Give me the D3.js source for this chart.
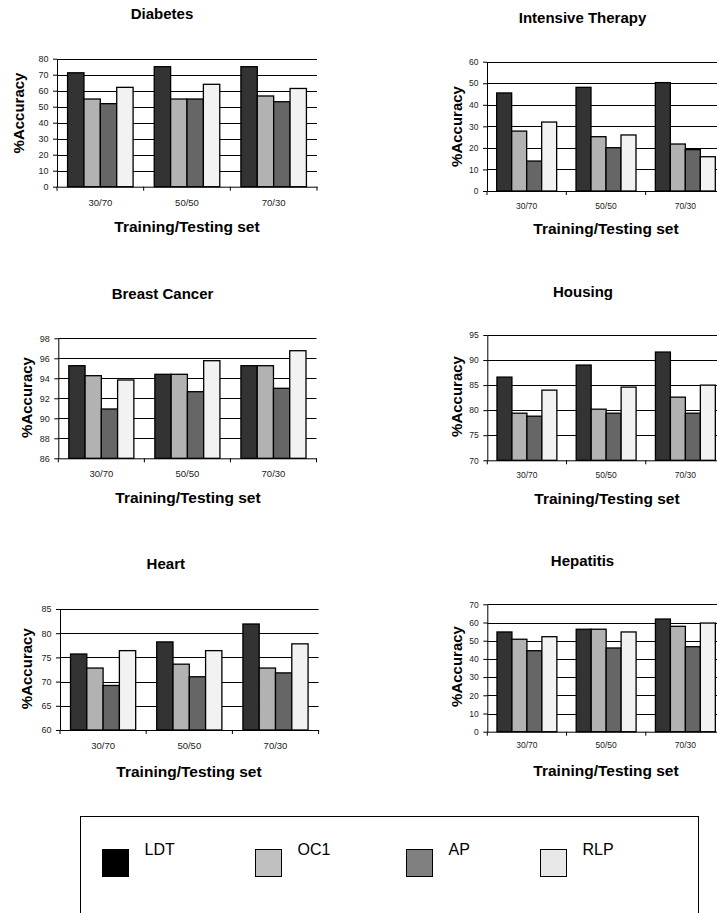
<!DOCTYPE html>
<html>
<head>
<meta charset="utf-8">
<script src="https://cdn.jsdelivr.net/npm/d3@7"></script>
<style>
  html, body { margin: 0; padding: 0; background: #fff; }
  svg { display: block; }
  text { font-family: Arial, "Liberation Sans", Helvetica, sans-serif; }
</style>
</head>
<body>
<svg id="chart" width="717" height="913"></svg>
<script>
// ---------------- DATA ----------------
const categories = ["30/70", "50/50", "70/30"];
const seriesNames = ["LDT", "OC1", "AP", "RLP"];
const barColors = ["#333333", "#b2b2b2", "#666666", "#f2f2f2"];
const legendColors = ["#000000", "#c0c0c0", "#808080", "#e8e8e8"];

// rows = series (LDT, OC1, AP, RLP); columns = categories
const diabetes     = [[71.2, 75.0, 75.0], [54.8, 54.8, 56.7], [51.9, 54.8, 53.1], [62.1, 64.0, 61.4]];
const intensive    = [[45.5, 48.1, 50.3], [27.8, 25.2, 21.8], [13.9, 20.1, 19.2], [32.0, 26.0, 15.9]];
const breastCancer = [[95.26, 94.4, 95.26], [94.26, 94.4, 95.26], [90.93, 92.66, 93.0], [93.83, 95.76, 96.76]];
const housing      = [[86.6, 89.0, 91.6], [79.4, 80.2, 82.6], [78.8, 79.4, 79.4], [84.0, 84.6, 85.0]];
const heart        = [[75.7, 78.2, 81.9], [72.8, 73.6, 72.8], [69.2, 71.0, 71.8], [76.4, 76.4, 77.8]];
const hepatitis    = [[54.8, 56.3, 61.9], [50.8, 56.3, 57.9], [44.5, 46.0, 46.7], [52.2, 54.8, 59.7]];

const yDomains = {
  diabetes: [0, 80], intensive: [0, 60], breastCancer: [86, 98],
  housing: [70, 95], heart: [60, 85], hepatitis: [0, 70]
};
const yTickSteps = { diabetes: 10, intensive: 10, breastCancer: 2, housing: 5, heart: 5, hepatitis: 10 };

const yLabel = "%Accuracy";
const xLabel = "Training/Testing set";

// ---------------- LAYOUT ----------------
const panels = [
  { key: "diabetes", title: "Diabetes", data: diabetes,
    left: 57, right: 317, top: 58.7, bottom: 186.7,
    titleX: 162, titleY: 18.5, yLabX: 24, yLabY: 113, catY: 206, xTitleX: 187, xTitleY: 232, tickFont: 9, catFont: 9.5 },
  { key: "intensive", title: "Intensive Therapy", data: intensive,
    left: 487, right: 725, top: 61.7, bottom: 191,
    titleX: 582.5, titleY: 22.5, yLabX: 462, yLabY: 126.5, catY: 209, xTitleX: 606, xTitleY: 234, tickFont: 8.5, catFont: 8.5 },
  { key: "breastCancer", title: "Breast Cancer", data: breastCancer,
    left: 58.3, right: 316.5, top: 338.3, bottom: 458.3,
    titleX: 162.5, titleY: 298.5, yLabX: 32.4, yLabY: 397.5, catY: 477, xTitleX: 188, xTitleY: 503, tickFont: 9, catFont: 9.5 },
  { key: "housing", title: "Housing", data: housing,
    left: 487.3, right: 725, top: 335, bottom: 460.3,
    titleX: 583, titleY: 296.7, yLabX: 462.4, yLabY: 396.5, catY: 478, xTitleX: 607, xTitleY: 504, tickFont: 8.5, catFont: 8.5 },
  { key: "heart", title: "Heart", data: heart,
    left: 60, right: 318.6, top: 609, bottom: 730,
    titleX: 165.8, titleY: 569.3, yLabX: 32.4, yLabY: 668.7, catY: 749, xTitleX: 189, xTitleY: 777, tickFont: 9, catFont: 9.5 },
  { key: "hepatitis", title: "Hepatitis", data: hepatitis,
    left: 487.3, right: 725, top: 604.3, bottom: 731.7,
    titleX: 582.5, titleY: 566, yLabX: 462.4, yLabY: 666.5, catY: 748, xTitleX: 606, xTitleY: 776, tickFont: 8.5, catFont: 8.5 }
];

const svg = d3.select("#chart");

panels.forEach(p => {
  const g = svg.append("g");
  const dom = yDomains[p.key];
  const step = yTickSteps[p.key];
  const ticks = d3.range(dom[0], dom[1] + step / 2, step);

  const y = d3.scaleLinear().domain(dom).range([p.bottom, p.top]);
  const x0 = d3.scaleBand().domain(categories).range([p.left, p.right]).padding(0);
  const bw = x0.bandwidth();
  const x1 = d3.scaleBand().domain(seriesNames).range([bw * 0.122, bw * 0.878]).padding(0);

  // gridlines
  g.append("g").selectAll("line").data(ticks.filter(t => t !== dom[0])).join("line")
    .attr("x1", p.left).attr("x2", p.right)
    .attr("y1", d => Math.round(y(d)) + 0.5).attr("y2", d => Math.round(y(d)) + 0.5)
    .attr("stroke", "#000").attr("stroke-width", 1);

  // bars
  const series = seriesNames.map((s, i) => ({ name: s, i, values: p.data[i] }));
  const sg = g.append("g").selectAll("g").data(series).join("g")
    .attr("fill", d => barColors[d.i]);
  sg.selectAll("rect").data(d => d.values.map((v, j) => ({ v, cat: categories[j], s: d.name })))
    .join("rect")
    .attr("x", d => x0(d.cat) + x1(d.s))
    .attr("width", x1.bandwidth())
    .attr("y", d => y(d.v))
    .attr("height", d => p.bottom - y(d.v))
    .attr("stroke", "#000").attr("stroke-width", 1.3);

  // y axis
  const ya = g.append("g").attr("transform", `translate(${p.left},0)`)
    .call(d3.axisLeft(y).tickValues(ticks).tickSize(4).tickSizeOuter(0).tickPadding(4.5).tickFormat(d3.format("d")));
  ya.select(".domain").attr("stroke", "#000");
  ya.selectAll(".tick line").attr("stroke", "#000");
  ya.selectAll("text").attr("font-size", p.tickFont).attr("fill", "#222")
    .attr("font-family", "Arial, 'Liberation Sans', sans-serif");

  // x axis (labels)
  const pad = p.catY - p.bottom - 0.71 * p.catFont;
  const xa = g.append("g").attr("transform", `translate(0,${p.bottom})`)
    .call(d3.axisBottom(x0).tickSize(0).tickSizeOuter(0).tickPadding(pad));
  xa.select(".domain").attr("stroke", "#000");
  xa.selectAll("text").attr("font-size", p.catFont).attr("fill", "#222")
    .attr("font-family", "Arial, 'Liberation Sans', sans-serif");
  // category boundary ticks
  const bounds = categories.map(c => x0(c)).concat([p.right]);
  g.append("g").selectAll("line").data(bounds).join("line")
    .attr("x1", d => d).attr("x2", d => d)
    .attr("y1", p.bottom).attr("y2", p.bottom + 4)
    .attr("stroke", "#000");

  // title
  g.append("text").attr("x", p.titleX).attr("y", p.titleY)
    .attr("text-anchor", "middle").attr("font-size", 15).attr("font-weight", "bold")
    .text(p.title);

  // y label
  g.append("text")
    .attr("transform", `translate(${p.yLabX},${p.yLabY}) rotate(-90)`)
    .attr("text-anchor", "middle").attr("font-size", 15).attr("font-weight", "bold")
    .text(yLabel);

  // x label
  g.append("text").attr("x", p.xTitleX).attr("y", p.xTitleY)
    .attr("text-anchor", "middle").attr("font-size", 15.5).attr("font-weight", "bold")
    .text(xLabel);
});

// ---------------- LEGEND ----------------
const legend = svg.append("g");
legend.append("rect").attr("x", 80.5).attr("y", 816.5).attr("width", 618).attr("height", 130)
  .attr("fill", "none").attr("stroke", "#000").attr("stroke-width", 1);
const lx = d3.scaleOrdinal().domain(seriesNames).range([102.5, 255.5, 406.5, 540.5]);
const li = legend.selectAll("g").data(seriesNames).join("g");
li.append("rect")
  .attr("x", d => lx(d)).attr("y", 849.5).attr("width", 26).attr("height", 27)
  .attr("fill", (d, i) => legendColors[i]).attr("stroke", "#000").attr("stroke-width", 1);
li.append("text")
  .attr("x", d => lx(d) + 42).attr("y", 855)
  .attr("font-size", 16).attr("fill", "#000")
  .text(d => d);
</script>
</body>
</html>
